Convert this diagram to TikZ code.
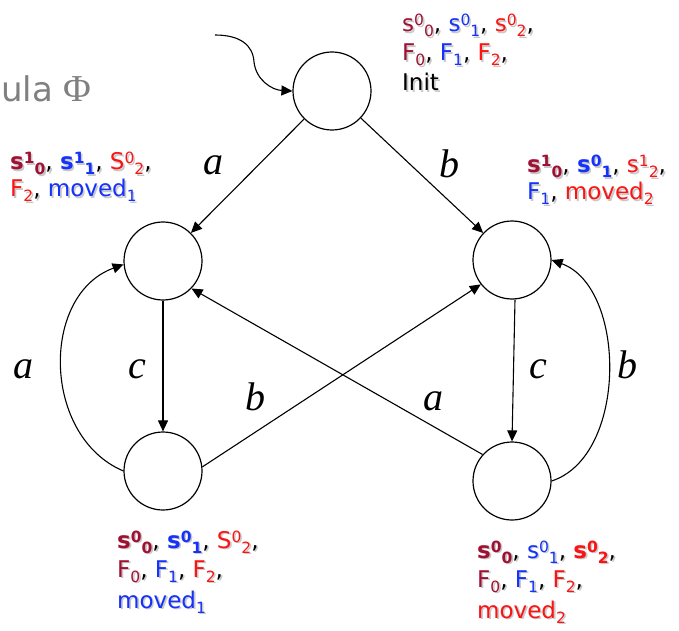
\documentclass[tikz,border=0pt]{standalone}
\usepackage{fontspec}
\setmainfont{DejaVu Sans}
\newfontfamily\serifface{Liberation Serif}
\usetikzlibrary{arrows.meta}

\definecolor{dred}{RGB}{160,16,50}
\definecolor{sblue}{RGB}{20,50,250}
\definecolor{sred}{RGB}{250,20,20}
\definecolor{sblk}{RGB}{0,0,0}
\definecolor{shd}{RGB}{200,200,200}
\definecolor{titlegray}{RGB}{128,128,128}

% superscript / subscript digits, set one after the other
\newcommand\Up[1]{\raisebox{6pt}{\fontsize{15.5}{15.5}\selectfont #1}}
\newcommand\Dn[1]{\raisebox{-5pt}{\fontsize{15.5}{15.5}\selectfont #1}}
% state variables: plain and bold
\newcommand\Sv[4]{{\color{#1}#2\Up{#3}\Dn{#4}}}
\newcommand\Sbold[3]{{\color{#1}\bfseries s\Up{#2}\Dn{#3}}}
\newcommand\Fv[2]{{\color{#1}F\Dn{#2}}}
\newcommand\Cm{{\color{sblk},}}
% in the drop-shadow copy every colour turns grey
\newcommand\shadowmode{\colorlet{dred}{shd}\colorlet{sblue}{shd}\colorlet{sred}{shd}\colorlet{sblk}{shd}}
\newcommand\stline[3]{%
  \node[lbl] (#1s) at ([shift={(1.6pt,-1.6pt)}]#2) {\shadowmode #3};
  \node[lbl] (#1) at (#2) {#3};}

\begin{document}
\begin{tikzpicture}[x=1pt,y=1pt,
  state/.style={circle,draw,line width=1.2pt,minimum size=78pt,inner sep=0pt},
  trans/.style={line width=1.1pt,-{Triangle[length=11pt,width=10pt]}},
  elab/.style={font=\serifface\itshape\fontsize{40}{40}\selectfont,anchor=base,inner sep=0pt},
  lbl/.style={font=\fontsize{23}{29}\selectfont,anchor=base west,inner sep=0pt}]
\path[use as bounding box] (0,0) rectangle (679,630);

% heading fragment
\node[anchor=base west,inner sep=0pt,text=titlegray,font=\fontsize{34}{34}\selectfont] (title) at (1,528) {ula {\serifface\fontsize{38}{38}\selectfont Φ}};

% states
\node[state] (T)  at (332,539) {};
\node[state] (UL) at (163,369) {};
\node[state] (UR) at (512,370) {};
\node[state] (LL) at (163,159) {};
\node[state] (LR) at (512,149) {};

% initial arrow
\coordinate (start) at (215,595);
\draw[trans] (start) .. controls (240,595) and (253,585) .. (254,568)
  .. controls (256,550) and (272,540) .. (T.west);

% transitions
\draw[trans] (T) -- (UL);
\draw[trans] (T) -- (UR);
\draw[trans] (UL) -- (LL);
\draw[trans] ([xshift=3pt]UR.south) -- (LR.north);
\draw[trans] (LL.6) -- (UR.218);
\draw[trans] (LR.138) -- (UL.-44);
\draw[trans] (LL.180) to[out=157,in=200,looseness=1.1] (UL.185);
\draw[trans] (LR.0) to[out=18,in=-20,looseness=0.93] (UR.0);

% transition labels
\node[elab] (la1) at (213,455) {a};
\node[elab] (lb1) at (449,452) {b};
\node[elab] (lc1) at (137,252) {c};
\node[elab] (la2) at (23,252) {a};
\node[elab] (lb2) at (255,220) {b};
\node[elab] (la3) at (433,220) {a};
\node[elab] (lc2) at (538,252) {c};
\node[elab] (lb3) at (627,252) {b};

% state labellings
\stline{t1}{402,598}{\Sv{dred}{s}{0}{0}\Cm{} \Sv{sblue}{s}{0}{1}\Cm{} \Sv{sred}{s}{0}{2}\Cm}
\stline{t2}{402,569}{\Fv{dred}{0}\Cm{} \Fv{sblue}{1}\Cm{} \Fv{sred}{2}\Cm}
\stline{t3}{402,539}{{\color{sblk}Init}}

\stline{ul1}{10,460}{\Sbold{dred}{1}{0}\Cm{} \Sbold{sblue}{1}{1}\Cm{} \Sv{sred}{S}{0}{2}\Cm}
\stline{ul2}{10,433}{\Fv{sred}{2}\Cm{} {\color{sblue}moved\Dn{1}}}

\stline{ur1}{527,457}{\Sbold{dred}{1}{0}\Cm{} \Sbold{sblue}{0}{1}\Cm{} \Sv{sred}{s}{1}{2}\Cm}
\stline{ur2}{527,430}{\Fv{sblue}{1}\Cm{} {\color{sred}moved\Dn{2}}}

\stline{ll1}{117,82}{\Sbold{dred}{0}{0}\Cm{} \Sbold{sblue}{0}{1}\Cm{} \Sv{sred}{S}{0}{2}\Cm}
\stline{ll2}{117,53}{\Fv{dred}{0}\Cm{} \Fv{sblue}{1}\Cm{} \Fv{sred}{2}\Cm}
\stline{ll3}{117,22}{{\color{sblue}moved\Dn{1}}}

\stline{lr1}{477,72}{\Sbold{dred}{0}{0}\Cm{} \Sv{sblue}{s}{0}{1}\Cm{} \Sbold{sred}{0}{2}\Cm}
\stline{lr2}{477,43}{\Fv{dred}{0}\Cm{} \Fv{sblue}{1}\Cm{} \Fv{sred}{2}\Cm}
\stline{lr3}{477,12}{{\color{sred}moved\Dn{2}}}
\end{tikzpicture}
\end{document}
